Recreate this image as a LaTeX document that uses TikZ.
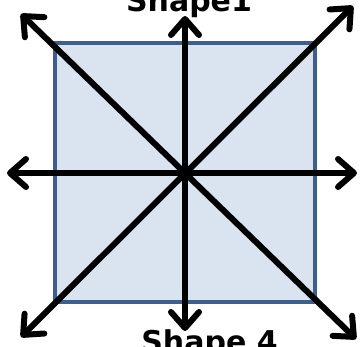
\documentclass[tikz,border=0pt]{standalone}
\usepackage{fontspec}
\setmainfont{DejaVu Sans}
\usetikzlibrary{arrows.meta}
\definecolor{boxfill}{HTML}{DAE3F0}
\definecolor{boxline}{HTML}{3E5F8E}
\tikzset{
  sq/.style={draw=boxline, line width=4.5pt, fill=boxfill},
  dir/.style={draw=black, line width=6pt, line cap=round,
    {Straight Barb[length=16pt,width=28pt,round]}-{Straight Barb[length=16pt,width=28pt,round]}},
  lbl/.style={font=\bfseries\fontsize{30}{30}\selectfont, inner sep=0pt, anchor=base}
}
\begin{document}
\begin{tikzpicture}[x=1pt,y=-1pt]
\useasboundingbox (0,0) rectangle (361,347);
\node[sq, minimum width=260pt, minimum height=259pt, inner sep=0pt] (box) at (185,172.5) {};
\coordinate (N) at (185,16);
\coordinate (S) at (185,331);
\coordinate (W) at (7,173);
\coordinate (E) at (357,173);
\coordinate (NW) at (21,14);
\coordinate (SE) at (356,339);
\coordinate (NE) at (353,6);
\coordinate (SW) at (21,337);
\draw[dir] (N) -- (S);
\draw[dir] (W) -- (E);
\draw[dir] (NW) -- (SE);
\draw[dir] (NE) -- (SW);
\node[lbl] (t1) at (189,12) {Shape1};
\node[lbl] (t4) at (209.5,352) {Shape 4};
\end{tikzpicture}
\end{document}
